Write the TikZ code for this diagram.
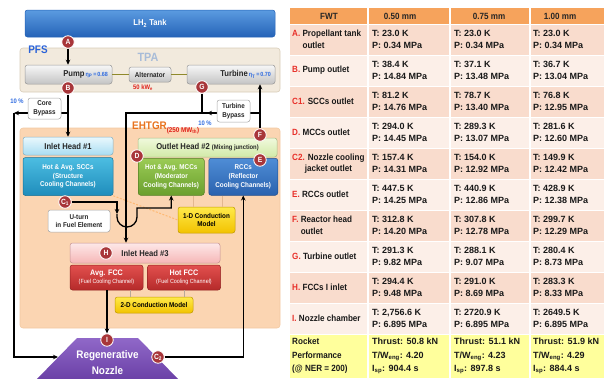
\documentclass[tikz,border=0pt]{standalone}
\usepackage{fontspec}
\setmainfont{Liberation Sans}[FakeStretch=0.9]
\newfontfamily\valuefont{Liberation Sans}
\usetikzlibrary{
    positioning,   % right=of, below=of
    arrows.meta,   % puntas Stealth
    calc           % ($(a)+(1,0)$)
}
\definecolor{tank_top}{HTML}{5B9BE0}
\definecolor{tank_bot}{HTML}{2563B8}
\definecolor{pfs_fill}{HTML}{F2EADD}
\definecolor{pfs_line}{HTML}{D8CCB8}
\definecolor{ehtgr_fill}{HTML}{FBD5B2}
\definecolor{ehtgr_line}{HTML}{F2C9A2}
\definecolor{gray_top}{HTML}{F7F7F7}
\definecolor{gray_bot}{HTML}{C4C4C4}
\definecolor{gray_line}{HTML}{9A9A9A}
\definecolor{ih1_top}{HTML}{EAF8FD}
\definecolor{ih1_bot}{HTML}{A9DDF2}
\definecolor{scc_top}{HTML}{4CBDE2}
\definecolor{scc_bot}{HTML}{1F8DBB}
\definecolor{oh2_top}{HTML}{F0F9DC}
\definecolor{oh2_bot}{HTML}{D2EAA8}
\definecolor{mcc_top}{HTML}{9BCB55}
\definecolor{mcc_bot}{HTML}{6A9F2E}
\definecolor{rcc_top}{HTML}{4F8DD6}
\definecolor{rcc_bot}{HTML}{2A62AE}
\definecolor{cond_top}{HTML}{FFEA4A}
\definecolor{cond_bot}{HTML}{F2C200}
\definecolor{ih3_top}{HTML}{FDE8E8}
\definecolor{ih3_bot}{HTML}{F6B7B7}
\definecolor{fcc_top}{HTML}{E2504E}
\definecolor{fcc_bot}{HTML}{B52A2A}
\definecolor{nozzle_top}{HTML}{9068C8}
\definecolor{nozzle_bot}{HTML}{6A40A6}
\definecolor{marker_red}{HTML}{A8363A}
\definecolor{eta_blue}{HTML}{2F6BE0}
\definecolor{kw_red}{HTML}{E0201A}
\definecolor{ehtgr_orange}{HTML}{E8731E}
\definecolor{pfs_blue}{HTML}{2A62D8}
\definecolor{tpa_blue}{HTML}{A8BCD8}
\definecolor{head_orange}{HTML}{F6A35C}
\definecolor{row_dark}{HTML}{F9DCCD}
\definecolor{row_light}{HTML}{FCEFE8}
\definecolor{rocket_yellow}{HTML}{FFFF9C}
\definecolor{key_red}{HTML}{E8302A}
\definecolor{tie_tan}{HTML}{E3B78F}
\definecolor{tie_gray}{HTML}{B8A898}
\newcommand\etalbl[2]{{\color{eta_blue}\fontsize{6}{7}\selectfont\,η\textsubscript{#1}\,=\,#2}}
\newcommand\keyl[1]{\textcolor{key_red}{#1}}
\tikzset{
    block/.style={
        rectangle, rounded corners=2.5pt, align=center,
        inner sep=1pt, line width=0.5pt
    },
    region/.style={
        rectangle, rounded corners=3pt, line width=0.6pt
    },
    tankbox/.style={
        block, top color=tank_top, bottom color=tank_bot, draw=tank_bot,
        text=white, font=\bfseries\fontsize{8.5}{10}\selectfont
    },
    graybox/.style={
        block, top color=gray_top, bottom color=gray_bot, draw=gray_line,
        minimum height=19, inner sep=4pt, text=black!85,
        font=\bfseries\fontsize{8.5}{10}\selectfont
    },
    headbox/.style 2 args={
        block, top color=#1, bottom color=#2, draw=#2!80!black,
        text=black!85, font=\bfseries\fontsize{8.5}{10}\selectfont
    },
    chanbox/.style 2 args={
        block, top color=#1, bottom color=#2, draw=#2!80!black,
        text=white, font=\bfseries\fontsize{7}{8.6}\selectfont
    },
    condbox/.style={
        block, top color=cond_top, bottom color=cond_bot, draw=cond_bot!80!black,
        text=black, font=\bfseries\fontsize{7}{8.6}\selectfont
    },
    notebox/.style={
        block, fill=white, draw=gray!70, text=black!85,
        font=\bfseries\fontsize{7}{8.6}\selectfont
    },
    marker/.style={
        circle, fill=marker_red, draw=white, line width=0.8pt,
        text=white, inner sep=0pt, minimum size=12.5,
        font=\bfseries\fontsize{7.5}{8}\selectfont
    },
    pipe/.style={line width=1.3pt},
    flow/.style={-{Stealth[length=5pt,width=4.5pt]}, line width=1.3pt},
    shaft/.style={draw=olive!70!gray, line width=1pt},
    tie/.style={draw=tie_tan, line width=1pt},
    cline/.style={draw=orange!55, line width=1pt, dash pattern=on 2pt off 1.5pt},
    note/.style={font=\bfseries\fontsize{6.5}{7}\selectfont},
    cell/.style={anchor=west, align=left, inner sep=0pt, text=black!90,
        font=\valuefont\bfseries\fontsize{9}{11.5}\selectfont},
    key/.style={anchor=west, align=left, inner sep=0pt, text=black!90,
        font=\bfseries\fontsize{9}{11.5}\selectfont},
    headcell/.style={inner sep=0pt, text=black!85,
        font=\bfseries\fontsize{9}{10}\selectfont}
}

\begin{document}
\begin{tikzpicture}[x=1pt, y=-1pt]
    \useasboundingbox (0,0) rectangle (604,378);

    % --- Regiones PFS y EHTGR ---
    \node[region, fill=pfs_fill, draw=pfs_line, minimum width=260, minimum height=44] (pfs) at (150,70) {};
    \node[region, fill=ehtgr_fill, draw=ehtgr_line, minimum width=260, minimum height=200] (ehtgr) at (150,228) {};
    \node[font=\bfseries\fontsize{11}{12}\selectfont, text=pfs_blue] (pfslbl) at (38,50) {PFS};
    \node[font=\bfseries\fontsize{12}{13}\selectfont, text=tpa_blue] (tpa) at (148,57) {TPA};
    \node[anchor=west, inner sep=0pt, font=\bfseries\fontsize{11}{12}\selectfont, text=ehtgr_orange] (ehtgrlbl) at (132,128)
        {EHTGR\raisebox{-2.5pt}{\fontsize{7}{8}\selectfont\color{kw_red}(250 MW\textsubscript{th})}};

    % --- Tanque y TPA ---
    \node[tankbox, minimum width=250, minimum height=27] (tank) at (150,23.5) {LH\textsubscript{2} Tank};
    \node[graybox, text width=79, align=right] (pump) at (68.5,74.5) {Pump\etalbl{P}{0.68}};
    \node[graybox, minimum width=42, minimum height=15, inner sep=1pt,
        font=\bfseries\fontsize{7}{8}\selectfont] (alt) at (150,74.5) {Alternator};
    \node[graybox, text width=80, align=right] (turb) at (231,74.5) {Turbine\etalbl{T}{0.70}};
    \node[note, text=kw_red] (kw) at (143,88) {50 kW\textsubscript{e}};
    \draw[shaft] (pump) -- (alt) -- (turb);

    % --- Nucleo ---
    \node[headbox={ih1_top}{ih1_bot}, minimum width=90, minimum height=18] (ih1) at (68,146) {Inlet Head \#1};
    \node[chanbox={scc_top}{scc_bot}, minimum width=90, minimum height=38, below=2pt of ih1] (scc)
        {Hot \& Avg. SCCs\\(Structure\\Cooling Channels)};
    \node[headbox={oh2_top}{oh2_bot}, minimum width=139, minimum height=19] (oh2) at (207.5,147.5)
        {Outlet Head \#2 {\fontsize{6.5}{7}\selectfont(Mixing junction)}};
    \node[chanbox={mcc_top}{mcc_bot}, minimum width=66, minimum height=37, anchor=north west] (mcc) at (138,158)
        {Hot \& Avg. MCCs\\(Moderator\\Cooling Channels)};
    \node[chanbox={rcc_top}{rcc_bot}, minimum width=69, minimum height=37, right=4pt of mcc] (rcc)
        {RCCs\\(Reflector\\Cooling Channels)};
    \node[condbox, minimum width=57, minimum height=26] (oned) at (206.5,220) {1-D Conduction\\Model};
    \node[notebox, minimum width=62, minimum height=22] (uturn) at (79,221) {U-turn\\in Fuel Element};
    \node[headbox={ih3_top}{ih3_bot}, minimum width=150, minimum height=20] (ih3) at (145,253) {Inlet Head \#3};
    \node[chanbox={fcc_top}{fcc_bot}, minimum width=73, minimum height=25, font=\bfseries\fontsize{8}{8.5}\selectfont] (afcc) at (106.5,277.5)
        {Avg. FCC\\{\mdseries\fontsize{6}{7}\selectfont(Fuel Cooling Channel)}};
    \node[chanbox={fcc_top}{fcc_bot}, minimum width=73, minimum height=25, font=\bfseries\fontsize{8}{8.5}\selectfont, right=4pt of afcc] (hfcc)
        {Hot FCC\\{\mdseries\fontsize{6}{7}\selectfont(Fuel Cooling Channel)}};
    \node[condbox, minimum width=78, minimum height=16] (twod) at (154,305) {2-D Conduction Model};

    % Lineas de conduccion
    \draw[cline] (scc.south east) -- (oned.west);
    \draw[tie] ([xshift=22pt]mcc.south) -- ([xshift=22pt]mcc.south |- oned.north);
    \draw[tie] ([xshift=-21pt]rcc.south) -- ([xshift=-21pt]rcc.south |- oned.north);
    \draw[tie, draw=tie_gray] ([xshift=23.5pt]afcc.south) -- ([xshift=23.5pt]afcc.south |- twod.north);
    \draw[tie, draw=tie_gray] (hfcc.south) -- (hfcc.south |- twod.north);

    % --- Tobera regenerativa ---
    \shade[top color=nozzle_top, bottom color=nozzle_bot] (77,338) -- (138,338) -- (179,380) -- (36,380) -- cycle;
    \node[align=center, text=white, font=\bfseries\fontsize{11}{16}\selectfont] (nozzle) at (107.5,363) {Regenerative\\Nozzle};
    \coordinate (nzL) at (58,357);

    % --- Marcadores de estado ---
    \node[marker] (mA) at (68,42) {A};
    \node[marker] (mB) at (68,88) {B};
    \node[marker] (mG) at (202,87) {G};
    \node[marker] (mF) at (260,135) {F};
    \node[marker] (mE) at (260,160) {E};
    \node[marker] (mD) at (137,156) {D};
    \node[marker] (mC1) at (65,202) {C\textsubscript{1}};
    \node[marker] (mH) at (106,253) {H};
    \node[marker] (mI) at (107,340) {I};
    \node[marker] (mC2) at (158,357) {C\textsubscript{2}};

    % --- Conexiones de flujo ---
    \coordinate (cbj) at (68,113);
    \coordinate (cbc) at (14,113);
    \coordinate (tbj) at (260,113);
    \coordinate (gj) at (202,113);
    \coordinate (gc) at (126,113);
    \coordinate (uin) at (117,214);

    \draw[flow] (mA) -- (pump.north -| mA);
    \draw[flow] (mB) -- (ih1.north -| mB);
    \draw[flow] (cbj) -- (cbc);
    \draw[flow] (cbc) |- (nzL);
    \draw[flow] (mF) -- (turb.south -| mF);
    \draw[pipe] (tbj) -- (gj);
    \draw[flow] (tbj) -- ([xshift=5pt]gj);
    \draw[flow] (mG) -- (gj) -- (gc) -- (gc |- ih3.north);
    \draw[flow] (mC1) -| (uin);
    \draw[flow] (uin) -- ++(0,3) arc[start angle=180, end angle=360, radius=10pt] -- (137,208) -| (mcc.south);
    \draw[flow] (afcc.south -| mI) -- (mI);
    \draw[flow] (mC2) -| (rcc.south);

    % Derivaciones (10 %)
    \node[notebox, minimum width=33, minimum height=21] (corebp) at (44.5,108.5) {Core\\Bypass};
    \node[notebox, minimum width=33, minimum height=22] (turbbp) at (233.5,111) {Turbine\\Bypass};
    \node[note, text=eta_blue] (cbpct) at (17,101) {10 \%};
    \node[note, text=eta_blue] (tbpct) at (205,123) {10 \%};

    % --- Tabla de resultados ---
    \foreach \i in {1,3,...,9}
        \fill[row_dark] (290,{24+31*(\i-1)}) rectangle (604,{24+31*\i});
    \foreach \i in {2,4,...,10}
        \fill[row_light] (290,{24+31*(\i-1)}) rectangle (604,{24+31*\i});
    \fill[head_orange] (290,8) rectangle (604,24);
    \fill[rocket_yellow] (290,334) rectangle (604,378);
    \foreach \i in {0,...,10}
        \draw[white, line width=1pt] (290,{24+31*\i}) -- (604,{24+31*\i});
    \foreach \cx in {368,450,530}
        \draw[white, line width=1.5pt] (\cx,8) -- (\cx,378);

    \node[headcell] (hfwt) at (329,16) {FWT};
    \node[headcell] (h050) at (400,16) {0.50 mm};
    \node[headcell] (h075) at (489,16) {0.75 mm};
    \node[headcell] (h100) at (560,16) {1.00 mm};

    \node[key] (kA) at (292,39.5) {\keyl{A.} Propellant tank\\\phantom{A.}\ outlet};
    \node[key] (kB) at (292,70.5) {\keyl{B.} Pump outlet};
    \node[key] (kC1) at (292,101.5) {\keyl{C1.} SCCs outlet};
    \node[key] (kD) at (292,132.5) {\keyl{D.} MCCs outlet};
    \node[key] (kC2) at (292,163.5) {\keyl{C2.} Nozzle cooling\\\phantom{C2}\ jacket outlet};
    \node[key] (kE) at (292,194.5) {\keyl{E.} RCCs outlet};
    \node[key] (kF) at (292,225.5) {\keyl{F.} Reactor head\\\phantom{F.}\ outlet};
    \node[key] (kG) at (292,256.5) {\keyl{G.} Turbine outlet};
    \node[key] (kH) at (292,287.5) {\keyl{H.} FCCs I inlet};
    \node[key] (kI) at (292,318.5) {\keyl{I.} Nozzle chamber};
    \node[key, font=\bfseries\fontsize{9}{13.5}\selectfont] (kR) at (292,356) {Rocket\\Performance\\(@ NER = 200)};

    \foreach \ta/\pa/\tb/\pb/\tc/\pc [count=\i] in {
        23.0/0.34/23.0/0.34/23.0/0.34,
        38.4/14.84/37.1/13.48/36.7/13.04,
        81.2/14.76/78.7/13.40/76.8/12.95,
        294.0/14.45/289.3/13.07/281.6/12.60,
        157.4/14.31/154.0/12.92/149.9/12.42,
        447.5/14.25/440.9/12.86/428.9/12.38,
        312.8/14.20/307.8/12.78/299.7/12.29,
        291.3/9.82/288.1/9.07/280.4/8.73,
        294.4/9.48/291.0/8.69/283.3/8.33,
        {2,756.6}/6.895/2720.9/6.895/2649.5/6.895}
    {
        \node[cell] (va\i) at (372,{24+31*\i-15.5}) {T: \ta\ K\\P: \pa\ MPa};
        \node[cell] (vb\i) at (454,{24+31*\i-15.5}) {T: \tb\ K\\P: \pb\ MPa};
        \node[cell] (vc\i) at (533,{24+31*\i-15.5}) {T: \tc\ K\\P: \pc\ MPa};
    }
    \foreach \th/\tw/\isp/\cx [count=\j] in {50.8/4.20/904.4/372, 51.1/4.23/897.8/454, 51.9/4.29/884.4/533}
        \node[cell, font=\valuefont\bfseries\fontsize{9}{13.5}\selectfont] (vr\j) at (\cx,356)
            {Thrust: \th\ kN\\T/W\textsubscript{eng}: \tw\\I\textsubscript{sp}: \isp\ s};

\end{tikzpicture}
\end{document}
